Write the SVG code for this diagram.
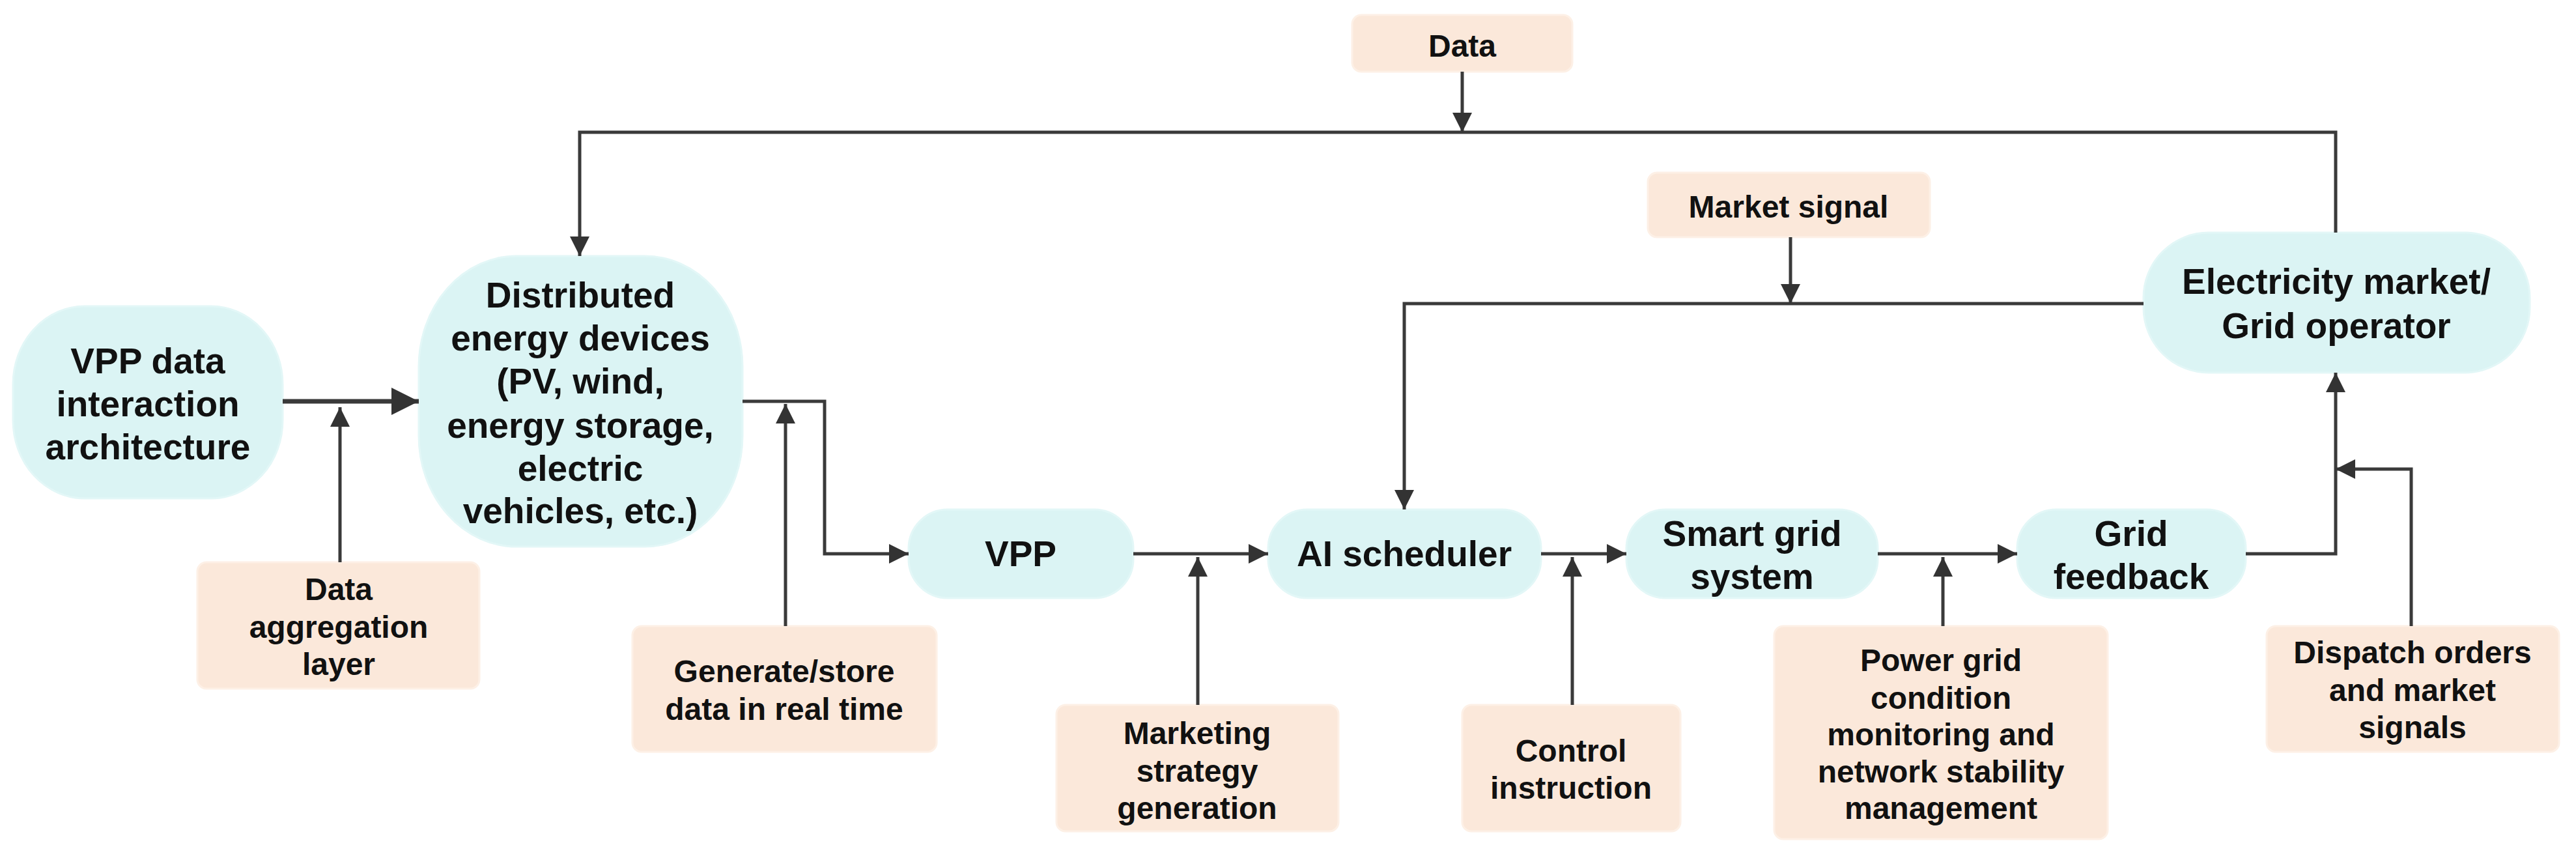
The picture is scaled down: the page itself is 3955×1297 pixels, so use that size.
<svg xmlns="http://www.w3.org/2000/svg" width="3955" height="1297" viewBox="0 0 3955 1297">
<defs>
<style>
.n{fill:#dbf4f4;stroke:#e3f7f7;stroke-width:3}
.l{fill:#fbe8da;stroke:#fdf0e6;stroke-width:3}
text{font-family:"Liberation Sans",Arial,sans-serif;font-weight:bold;font-size:55px;fill:#111;text-anchor:middle}
.s{font-size:48px}
.c{fill:none;stroke:#3a3a3a;stroke-width:5}
</style>
<marker id="a" viewBox="0 0 10 10" refX="10" refY="5" markerWidth="7" markerHeight="6" markerUnits="strokeWidth" orient="auto"><path d="M0,0L10,5L0,10z" fill="#333"/></marker>
</defs>
<g id="vppdata"><rect class="n" x="20" y="470" width="414" height="295" rx="110" ry="120"/><text x="227" y="573">VPP data</text><text x="227" y="639">interaction</text><text x="227" y="705">architecture</text></g>
<g id="distributed"><rect class="n" x="643" y="393" width="497" height="446" rx="150" ry="170"/><text x="891" y="472">Distributed</text><text x="891" y="538">energy devices</text><text x="891" y="604">(PV, wind,</text><text x="891" y="672">energy storage,</text><text x="891" y="738">electric</text><text x="891" y="803">vehicles, etc.)</text></g>
<g id="vpp"><rect class="n" x="1395" y="782" width="345" height="136" rx="60"/><text x="1567" y="869">VPP</text></g>
<g id="ai"><rect class="n" x="1947" y="782" width="419" height="136" rx="60"/><text x="2156" y="869">AI scheduler</text></g>
<g id="smart"><rect class="n" x="2497" y="782" width="386" height="136" rx="60"/><text x="2690" y="838">Smart grid</text><text x="2690" y="904">system</text></g>
<g id="feedback"><rect class="n" x="3097" y="782" width="351" height="136" rx="60"/><text x="3272" y="838">Grid</text><text x="3272" y="904">feedback</text></g>
<g id="market"><rect class="n" x="3291" y="357" width="593" height="215" rx="100"/><text x="3587" y="451">Electricity market/</text><text x="3587" y="519">Grid operator</text></g>
<g id="data"><rect class="l" x="2076" y="23" width="338" height="87" rx="14"/><text class="s" x="2245" y="87">Data</text></g>
<g id="marketsignal"><rect class="l" x="2530" y="265" width="433" height="99" rx="14"/><text class="s" x="2746" y="334">Market signal</text></g>
<g id="aggregation"><rect class="l" x="303" y="863" width="433" height="194" rx="14"/><text class="s" x="520" y="921">Data</text><text class="s" x="520" y="979">aggregation</text><text class="s" x="520" y="1036">layer</text></g>
<g id="generate"><rect class="l" x="971" y="961" width="467" height="193" rx="14"/><text class="s" x="1204" y="1047">Generate/store</text><text class="s" x="1204" y="1105">data in real time</text></g>
<g id="marketing"><rect class="l" x="1622" y="1082" width="433" height="194" rx="14"/><text class="s" x="1838" y="1142">Marketing</text><text class="s" x="1838" y="1200">strategy</text><text class="s" x="1838" y="1257">generation</text></g>
<g id="control"><rect class="l" x="2245" y="1082" width="335" height="194" rx="14"/><text class="s" x="2412" y="1169">Control</text><text class="s" x="2412" y="1226">instruction</text></g>
<g id="powergrid"><rect class="l" x="2724" y="961" width="512" height="327" rx="14"/><text class="s" x="2980" y="1030">Power grid</text><text class="s" x="2980" y="1088">condition</text><text class="s" x="2980" y="1144">monitoring and</text><text class="s" x="2980" y="1201">network stability</text><text class="s" x="2980" y="1257">management</text></g>
<g id="dispatch"><rect class="l" x="3480" y="961" width="449" height="193" rx="14"/><text class="s" x="3704" y="1018">Dispatch orders</text><text class="s" x="3704" y="1076">and market</text><text class="s" x="3704" y="1133">signals</text></g>
<g id="connectors">
<path class="c" d="M3586,357V203H890V393" marker-end="url(#a)"/>
<path class="c" d="M2245,110V203" marker-end="url(#a)"/>
<path class="c" d="M3291,466H2156V782" marker-end="url(#a)"/>
<path class="c" d="M2749,364V466" marker-end="url(#a)"/>
<path class="c" d="M434,616H643" style="stroke-width:7" marker-end="url(#a)"/>
<path class="c" d="M522,863V625" marker-end="url(#a)"/>
<path class="c" d="M1140,616H1266V850H1395" marker-end="url(#a)"/>
<path class="c" d="M1206,961V620" marker-end="url(#a)"/>
<path class="c" d="M1740,850H1947" marker-end="url(#a)"/>
<path class="c" d="M1839,1082V855" marker-end="url(#a)"/>
<path class="c" d="M2366,850H2497" marker-end="url(#a)"/>
<path class="c" d="M2414,1082V855" marker-end="url(#a)"/>
<path class="c" d="M2883,850H3097" marker-end="url(#a)"/>
<path class="c" d="M2983,961V855" marker-end="url(#a)"/>
<path class="c" d="M3448,850H3586V572" marker-end="url(#a)"/>
<path class="c" d="M3702,961V720H3586" marker-end="url(#a)"/>
</g>
</svg>
